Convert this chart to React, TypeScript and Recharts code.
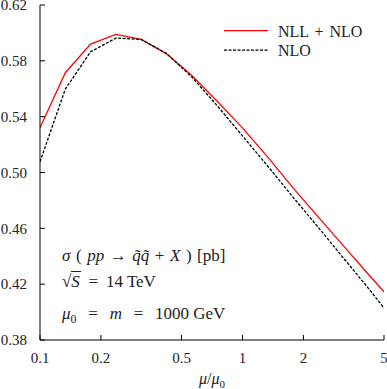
import React from 'react';
import { LineChart, Line, XAxis, YAxis, Legend } from 'recharts';

const muValues = [0.1, 0.1334, 0.1778, 0.2371, 0.3162, 0.4217, 0.5623, 0.7499, 1, 1.334, 1.778, 2.371, 3.162, 4.217, 5];
const nllNloValues = [0.532, 0.5715, 0.592, 0.599, 0.5953, 0.585, 0.5695, 0.551, 0.532, 0.511, 0.489, 0.468, 0.4473, 0.4266, 0.4146];
const nloValues = [0.5077, 0.5598, 0.5865, 0.5963, 0.5953, 0.5853, 0.5684, 0.5479, 0.5262, 0.5045, 0.4823, 0.4606, 0.4385, 0.4165, 0.4029];
const xTicks = [0.1, 0.2, 0.5, 1, 2, 5];
const yTicks = [0.38, 0.42, 0.46, 0.5, 0.54, 0.58, 0.62];
const seriesNames = ['NLL + NLO', 'NLO'];

const data = muValues.map((mu, i) => ({ mu, nllNlo: nllNloValues[i], nlo: nloValues[i] }));

const FONT = '"Liberation Serif", "DejaVu Serif", serif';

const NoTick = () => <g />;

const LegendContent = (props: any) => {
  const payload = props.payload || [];
  return (
    <svg width={170} height={50} style={{ display: 'block' }}>
      {payload.map((p: any, i: number) => {
        const cy = 10.7 + i * 19.5;
        return (
          <g key={i}>
            <line x1={4} x2={48} y1={cy} y2={cy} stroke={p.color} strokeWidth={1.3}
              strokeDasharray={p.payload && p.payload.strokeDasharray ? p.payload.strokeDasharray : undefined} />
            <text x={58} y={cy + 6} fontFamily={FONT} fontSize={16} fill="#222" wordSpacing={2}>{p.value}</text>
          </g>
        );
      })}
    </svg>
  );
};

export default function App() {
  const it = { fontStyle: 'italic' as const };
  const lineStyle: React.CSSProperties = {
    position: 'absolute', left: 62, fontFamily: FONT, fontSize: 17, lineHeight: '17px',
    color: '#222', whiteSpace: 'nowrap',
  };
  const b = 14.2;
  return (
    <div style={{ position: 'absolute', left: 0, top: 0, width: 387, height: 389, background: '#fff' }}>
      <LineChart width={387} height={389} data={data} margin={{ top: 5, right: 3, bottom: 0, left: 0 }}
        style={{ fontFamily: FONT }}>
        <XAxis dataKey="mu" type="number" scale="log" domain={[0.1, 5]} ticks={xTicks} allowDataOverflow
          tickSize={-5} tickMargin={17} height={49} stroke="#000" interval={0}
          tick={{ fill: '#222', fontSize: 15, fontFamily: FONT }} tickFormatter={(v: number) => String(v)} />
        <XAxis xAxisId="top" orientation="top" dataKey="mu" type="number" scale="log" domain={[0.1, 5]}
          ticks={xTicks} allowDataOverflow tickSize={-5} height={0} stroke="#555" interval={0} tick={NoTick} />
        <YAxis type="number" domain={[0.38, 0.62]} ticks={yTicks} allowDataOverflow tickSize={-5} tickMargin={18}
          width={40} stroke="#000" interval={0}
          tick={{ fill: '#222', fontSize: 15, fontFamily: FONT }} tickFormatter={(v: number) => v.toFixed(2)} />
        <YAxis yAxisId="right" orientation="right" type="number" domain={[0.38, 0.62]} ticks={yTicks}
          allowDataOverflow tickSize={-5} width={0} stroke="#333" interval={0} tick={NoTick} />
        <Legend layout="vertical" align="center" verticalAlign="middle"
          wrapperStyle={{ top: 20, left: 220, width: 170, height: 50 }} content={LegendContent} />
        <Line name={seriesNames[0]} dataKey="nllNlo" type="linear" stroke="#ff0000" strokeWidth={1.3}
          dot={false} activeDot={false} isAnimationActive={false} />
        <Line name={seriesNames[1]} dataKey="nlo" type="linear" stroke="#000" strokeWidth={1.3}
          strokeDasharray="3 1.5" dot={false} activeDot={false} isAnimationActive={false} />
      </LineChart>
      <div style={{ ...lineStyle, top: 261 - b, wordSpacing: 1.3 }}>
        <span style={it}>σ</span> ( <span style={it}>pp</span> → <span style={it}>q̃q̃</span> + <span style={it}>X</span> ) [pb]
      </div>
      <div style={{ ...lineStyle, top: 287 - b, wordSpacing: 3.5 }}>
        √<span style={{ ...it, borderTop: '1px solid #222', paddingRight: 1 }}>S</span> = <span style={{ wordSpacing: 0 }}>14 TeV</span>
      </div>
      <div style={{ ...lineStyle, top: 319 - b, wordSpacing: 7.5 }}>
        <span style={it}>μ</span><sub style={{ fontSize: 12 }}>0</sub> = <span style={it}>m</span> = <span style={{ wordSpacing: 0 }}>1000 GeV</span>
      </div>
      <div style={{ position: 'absolute', left: 40, width: 344, top: 384 - 13.4, textAlign: 'center',
        fontFamily: FONT, fontSize: 16, lineHeight: '16px', color: '#222' }}>
        <span style={it}>μ</span>/<span style={it}>μ</span><sub style={{ fontSize: 11, lineHeight: 0 }}>0</sub>
      </div>
    </div>
  );
}
